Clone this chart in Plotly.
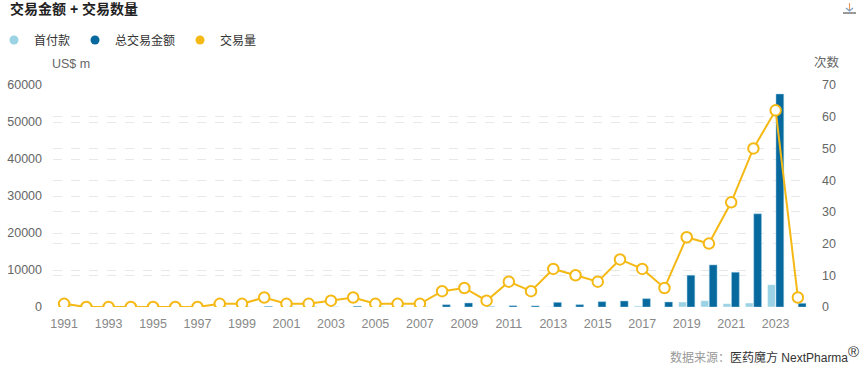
import plotly.graph_objects as go

years = list(range(1991, 2025))
upfront = [0, 0, 0, 0, 0, 0, 0, 0, 0, 60, 0, 0, 0, 50, 0, 0, 0, 0, 0, 0,
           0, 0, 80, 0, 0, 0, 300, 0, 1350, 1700, 900, 1080, 6030, 0]
total = [0, 0, 0, 0, 0, 0, 0, 0, 0, 150, 0, 0, 0, 200, 0, 0, 0, 620, 1080, 50,
         350, 300, 1250, 630, 1440, 1620, 2250, 1350, 8580, 11370, 9390, 25170, 57560, 1000]
deals = [1, 0, 0, 0, 0, 0, 0, 1, 1, 3, 1, 1, 2, 3, 1, 1, 1, 5, 6, 2,
         8, 5, 12, 10, 8, 15, 12, 6, 22, 20, 33, 50, 62, 3]
tick_years = list(range(1991, 2025, 2))

W, H = 867, 369
ML, MR, MT, MB = 53, 58, 85, 62
PW, PH = W - ML - MR, H - MT - MB

def px(x):
    return (x - ML) / PW

def py(y):
    return (H - MB - y) / PH

LIGHT = "#9bd3e5"
DARK = "#07699e"
YEL = "#f5b915"
FONT = "Liberation Sans, Noto Sans CJK SC, sans-serif"

fig = go.Figure()
fig.add_bar(x=years, y=upfront, name="首付款", marker=dict(color=LIGHT, line=dict(width=0.8, color="rgba(255,255,255,0.5)")),
            showlegend=False, yaxis="y")
fig.add_bar(x=years, y=total, name="总交易金额", marker=dict(color=DARK, line=dict(width=0.8, color="rgba(160,210,230,0.6)")),
            showlegend=False, yaxis="y")
fig.add_scatter(x=years, y=deals, name="交易量", yaxis="y2", mode="lines+markers",
                line=dict(color=YEL, width=2),
                marker=dict(size=10.5, color="white", line=dict(color=YEL, width=2)),
                showlegend=False)
# legend entries
for nm, c in [("首付款", LIGHT), ("总交易金额", DARK), ("交易量", YEL)]:
    fig.add_scatter(x=[None], y=[None], mode="markers", name=nm,
                    marker=dict(size=9, color=c, symbol="circle"), yaxis="y2")

grid = dict(showgrid=True, gridcolor="#e8e8e8", griddash="dash", gridwidth=1, zeroline=False)
fig.update_layout(
    width=W, height=H,
    margin=dict(l=ML, r=MR, t=MT, b=MB, autoexpand=False),
    paper_bgcolor="white", plot_bgcolor="white",
    font=dict(family=FONT, size=12, color="#666"),
    barmode="group", bargap=0.24, bargroupgap=0.08,
    showlegend=True,
    legend=dict(orientation="h", x=px(-6), y=py(40), xanchor="left", yanchor="middle",
                font=dict(size=12, color="#333"), itemwidth=30,
                bgcolor="rgba(0,0,0,0)", traceorder="normal"),
    xaxis=dict(range=[1990.5, 2024.5], tickvals=tick_years, ticktext=[str(y) for y in tick_years],
               showgrid=False, zeroline=False, showline=False, ticks="",
               tickfont=dict(size=12.5, color="#888"), ticklabelstandoff=7),
    yaxis=dict(range=[0, 60000], dtick=10000, tickformat="d", tickfont=dict(size=12.5, color="#666"),
               ticklabelstandoff=10, **grid),
    yaxis2=dict(range=[0, 70], dtick=10, overlaying="y", side="right",
                tickfont=dict(size=12.5, color="#666"), ticklabelstandoff=12, **grid),
    hovermode=False,
)

ann = [
    dict(x=px(8), y=py(9), text="<b>交易金额 + 交易数量</b>", font=dict(size=14, color="#222"),
         xanchor="left", yanchor="middle"),
    dict(x=px(50), y=py(64), text="US$ m", font=dict(size=12.5, color="#666"),
         xanchor="left", yanchor="middle"),
    dict(x=px(812), y=py(63), text="次数", font=dict(size=12.5, color="#666"),
         xanchor="left", yanchor="middle"),
    dict(x=px(861), y=py(354), text="<span style='color:#999'>数据来源：</span>医药魔方 NextPharma<sup><span style='font-size:15px'>®</span></sup>",
         font=dict(size=12, color="#333"), xanchor="right", yanchor="middle"),
]
for a in ann:
    a.update(xref="paper", yref="paper", showarrow=False)
fig.update_layout(annotations=ann)

# download icon
fig.add_shape(type="line", xref="paper", yref="paper", x0=px(843), x1=px(856), y0=py(13), y1=py(13),
              line=dict(color="#555", width=1.2))
fig.add_shape(type="line", xref="paper", yref="paper", x0=px(849.5), x1=px(849.5), y0=py(3), y1=py(11),
              line=dict(color="#e69a5c", width=1.2))
fig.add_shape(type="path", xref="paper", yref="paper",
              path=f"M {px(846)} {py(8)} L {px(849.5)} {py(11)} L {px(853)} {py(8)}",
              line=dict(color="#7a9cc6", width=1.2))

fig.write_html("out.html", config={"displayModeBar": False},
               post_script="document.body.style.margin='0';document.body.style.overflow='hidden';")
